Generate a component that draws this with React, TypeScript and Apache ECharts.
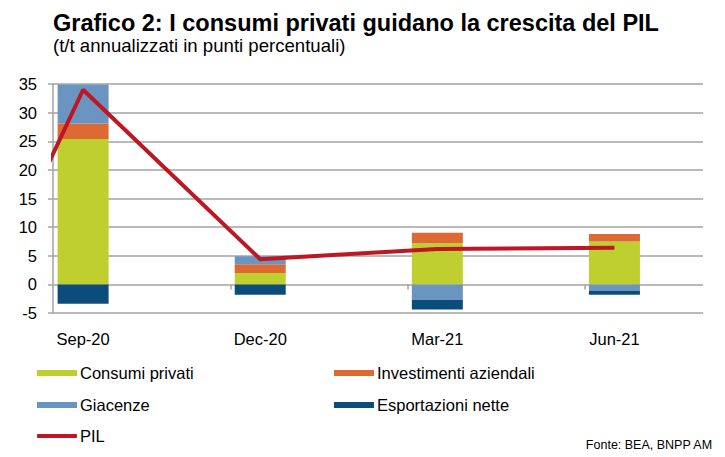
import * as echarts from 'echarts'
import { useEffect, useRef } from 'react'

// quarters; Jun-20 only carries the first PIL point (drawn off the left edge)
const categories = ['Jun-20', 'Sep-20', 'Dec-20', 'Mar-21', 'Jun-21']
const barQuarters = [1, 2, 3, 4]

const consumi = [25.4, 2.0, 7.2, 7.5]
const investimenti = [2.7, 1.5, 1.8, 1.3]
const giacenze = [6.8, 1.4, -2.7, -1.1]
const esportazioni = [-3.4, -1.8, -1.7, -0.7]
const pil = [-32, 34.0, 4.4, 6.2, 6.4]

const yTicks = { min: -5, max: 35, interval: 5 }

const FONT = 'Liberation Sans, Arial, sans-serif'
const GRID_COLOR = '#a3a3a3'

// value first so the stack runs on y (x is also a value axis here)
const pairs = (vals: number[], xs: number[]) => vals.map((v, i) => [v, xs[i]])

const App = () => {
	const chartRef = useRef(null)

	useEffect(() => {
		const myChart = echarts.init(chartRef.current, null, { renderer: 'svg' })

		const barSeries = (name: string, vals: number[], color: string) => ({
			name,
			type: 'bar',
			stack: 'tot',
			barWidth: 51,
			data: pairs(vals, barQuarters),
			encode: { x: 1, y: 0 },
			itemStyle: { color },
		})

		const legendItem = (name: string, left: number, top: number, icon = 'rect', h = 6) => ({
			data: [name],
			left,
			top,
			padding: 0,
			icon,
			itemWidth: 40,
			itemHeight: h,
			itemGap: 0,
			textStyle: { fontFamily: FONT, fontSize: 16.5, color: '#000', lineHeight: 18, padding: [0, 0, 0, -2] },
			selectedMode: false,
		})

		const option = {
			animation: false,
			backgroundColor: '#fff',
			textStyle: { fontFamily: FONT },
			title: [
				{
					text: 'Grafico 2: I consumi privati guidano la crescita del PIL',
					left: 53,
					top: 9,
					padding: 0,
					textStyle: { fontFamily: FONT, fontSize: 23.5, fontWeight: 'bold', color: '#000', lineHeight: 27 },
				},
				{
					text: '(t/t annualizzati in punti percentuali)',
					left: 53,
					top: 35,
					padding: 0,
					textStyle: { fontFamily: FONT, fontSize: 18.6, fontWeight: 'normal', color: '#000', lineHeight: 21 },
				},
				{
					text: 'Fonte: BEA, BNPP AM',
					right: 12,
					top: 437,
					padding: 0,
					textStyle: { fontFamily: FONT, fontSize: 12.5, fontWeight: 'normal', color: '#000', lineHeight: 15 },
				},
			],
			legend: [
				legendItem('Consumi privati', 37, 364),
				legendItem('Investimenti aziendali', 334, 364),
				legendItem('Giacenze', 37, 396),
				legendItem('Esportazioni nette', 334, 396),
				legendItem('PIL', 37, 427, 'roundRect', 4),
			],
			grid: { left: 53, right: 22, top: 84, bottom: 144 },
			xAxis: [
				{
					type: 'value',
					min: 0.83,
					max: 4.5,
					axisLine: { show: false, onZero: false },
					axisTick: { show: false },
					splitLine: { show: false },
					axisLabel: {
						customValues: barQuarters,
						formatter: (v: number) => categories[Math.round(v)],
						fontSize: 16.5,
						color: '#000',
						margin: 17,
					},
				},
				{
					type: 'value',
					position: 'bottom',
					min: 0.83,
					max: 4.5,
					axisLine: { show: false, onZero: true },
					axisTick: {
						show: true,
						length: 5,
						customValues: barQuarters.slice(1).map((q) => q - 0.165),
						lineStyle: { color: GRID_COLOR, width: 1.5 },
					},
					axisLabel: { show: false },
					splitLine: { show: false },
				},
			],
			yAxis: {
				type: 'value',
				...yTicks,
				axisLine: { show: true, lineStyle: { color: GRID_COLOR, width: 1.5 } },
				axisTick: { show: true, length: 5, lineStyle: { color: GRID_COLOR, width: 1.5 } },
				splitLine: { lineStyle: { color: GRID_COLOR, width: 1.5 } },
				axisLabel: { fontSize: 16.5, color: '#000', margin: 16 },
			},
			series: [
				barSeries('Consumi privati', consumi, '#bfcf2f'),
				barSeries('Investimenti aziendali', investimenti, '#dc6a32'),
				barSeries('Giacenze', giacenze, '#6b95c1'),
				barSeries('Esportazioni nette', esportazioni, '#0c4c7b'),
				{
					name: 'PIL',
					type: 'line',
					data: pil.map((v, i) => [i, v]),
					showSymbol: false,
					symbol: 'none',
					clip: true,
					lineStyle: { color: '#be1622', width: 4 },
					itemStyle: { color: '#be1622' },
					z: 5,
				},
			],
		}

		myChart.setOption(option)

		return () => {
			myChart.dispose()
		}
	}, [])

	return (
		<div
			ref={chartRef}
			style={{ position: 'absolute', left: 0, top: 0, width: '725px', height: '457px' }}
		/>
	)
}

export default App
